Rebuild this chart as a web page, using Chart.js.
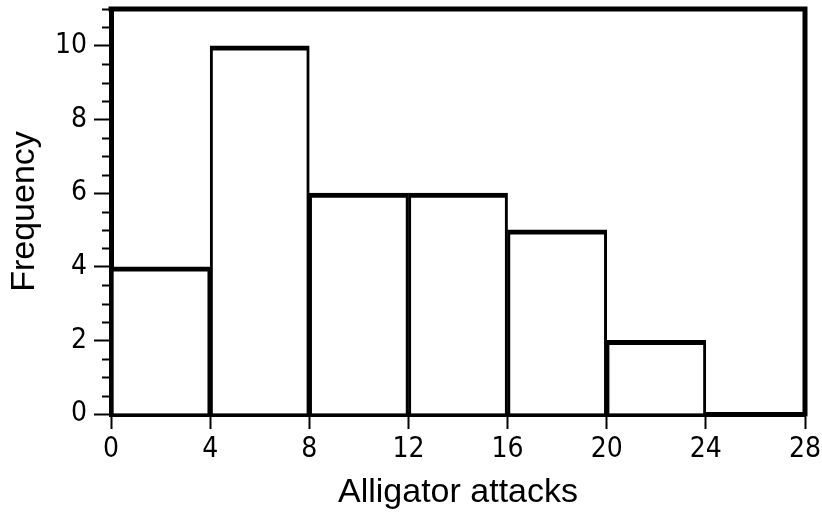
<!DOCTYPE html>
<html>
<head>
<meta charset="utf-8">
<script src="https://cdn.jsdelivr.net/npm/chart.js@4.4.1/dist/chart.umd.min.js"></script>
<style>
  html, body { margin: 0; padding: 0; background: #fff; }
  #wrap { width: 822px; height: 523px; }
</style>
</head>
<body>
<div id="wrap"><canvas id="histChart"></canvas></div>
<script>
// histogram bins (start of each bin) and counts
const binStarts = [0, 4, 8, 12, 16, 20];
const binWidth = 4;
const frequencies = [4, 10, 6, 6, 5, 2];
const xTicks = [0, 4, 8, 12, 16, 20, 24, 28];
const yTicks = [0, 2, 4, 6, 8, 10];

const tickFont = { family: "'Liberation Sans Narrow', 'DejaVu Sans Condensed', 'Liberation Sans', sans-serif", size: 28 };
const titleFont = { family: "'Liberation Sans', Arial, sans-serif", size: 34 };

// frame on top/right + minor ticks on y axis
const framePlugin = {
  id: "frame",
  afterDraw(chart) {
    const { ctx, chartArea: a, scales } = chart;
    ctx.save();
    ctx.strokeStyle = "#000";
    ctx.lineWidth = 5;
    ctx.beginPath();
    ctx.moveTo(a.left - 2.5, a.top);
    ctx.lineTo(a.right, a.top);
    ctx.lineTo(a.right, a.bottom + 2.5);
    ctx.stroke();

    // minor ticks every 0.5
    ctx.lineWidth = 2;
    const y = scales.y;
    for (let v = 0.5; v <= y.max; v += 0.5) {
      if (v % 2 === 0) continue;
      const py = Math.round(y.getPixelForValue(v)) + 0.5;
      ctx.beginPath();
      ctx.moveTo(a.left - 9, py);
      ctx.lineTo(a.left, py);
      ctx.stroke();
    }
    ctx.restore();
  },
};

const noPad = (s) => {
  s.paddingTop = 0;
  s.paddingBottom = 0;
  s.paddingLeft = 0;
  s.paddingRight = 0;
};

const ctx = document.getElementById("histChart").getContext("2d");
new Chart(ctx, {
  type: "bar",
  data: {
    datasets: [
      {
        data: binStarts.map((s, i) => ({ x: s + binWidth / 2, y: frequencies[i] })),
        backgroundColor: "#fff",
        borderColor: "#000",
        borderWidth: { top: 5, left: 3, right: 3, bottom: 0 },
        borderSkipped: "start",
        barPercentage: 1,
        categoryPercentage: 1,
      },
    ],
  },
  options: {
    responsive: true,
    maintainAspectRatio: false,
    animation: false,
    layout: { padding: { top: 9, right: 17, left: 0, bottom: 0 } },
    plugins: {
      legend: { display: false },
      tooltip: { enabled: false },
    },
    scales: {
      x: {
        type: "linear",
        min: 0,
        max: 28,
        offset: false,
        afterFit: (s) => { s.height = 109; noPad(s); },
        afterBuildTicks: (s) => { s.ticks = xTicks.map((v) => ({ value: v })); },
        ticks: { color: "#000", font: tickFont, padding: 4, maxRotation: 0 },
        grid: { offset: false, drawOnChartArea: false, tickLength: 15, tickWidth: 2, tickColor: "#000" },
        border: { display: true, width: 5, color: "#000" },
        title: { display: true, text: "Alligator attacks", color: "#000", font: titleFont, padding: { top: 0, bottom: 10 } },
      },
      y: {
        min: 0,
        max: 11,
        afterFit: (s) => { s.width = 111; noPad(s); },
        afterBuildTicks: (s) => { s.ticks = yTicks.map((v) => ({ value: v })); },
        ticks: { color: "#000", font: tickFont, padding: 7 },
        grid: { drawOnChartArea: false, tickLength: 17, tickWidth: 2, tickColor: "#000" },
        border: { display: true, width: 5, color: "#000" },
        title: { display: true, text: "Frequency", color: "#000", font: titleFont, padding: { top: 4, bottom: 0 } },
      },
    },
  },
  plugins: [framePlugin],
});
</script>
</body>
</html>
